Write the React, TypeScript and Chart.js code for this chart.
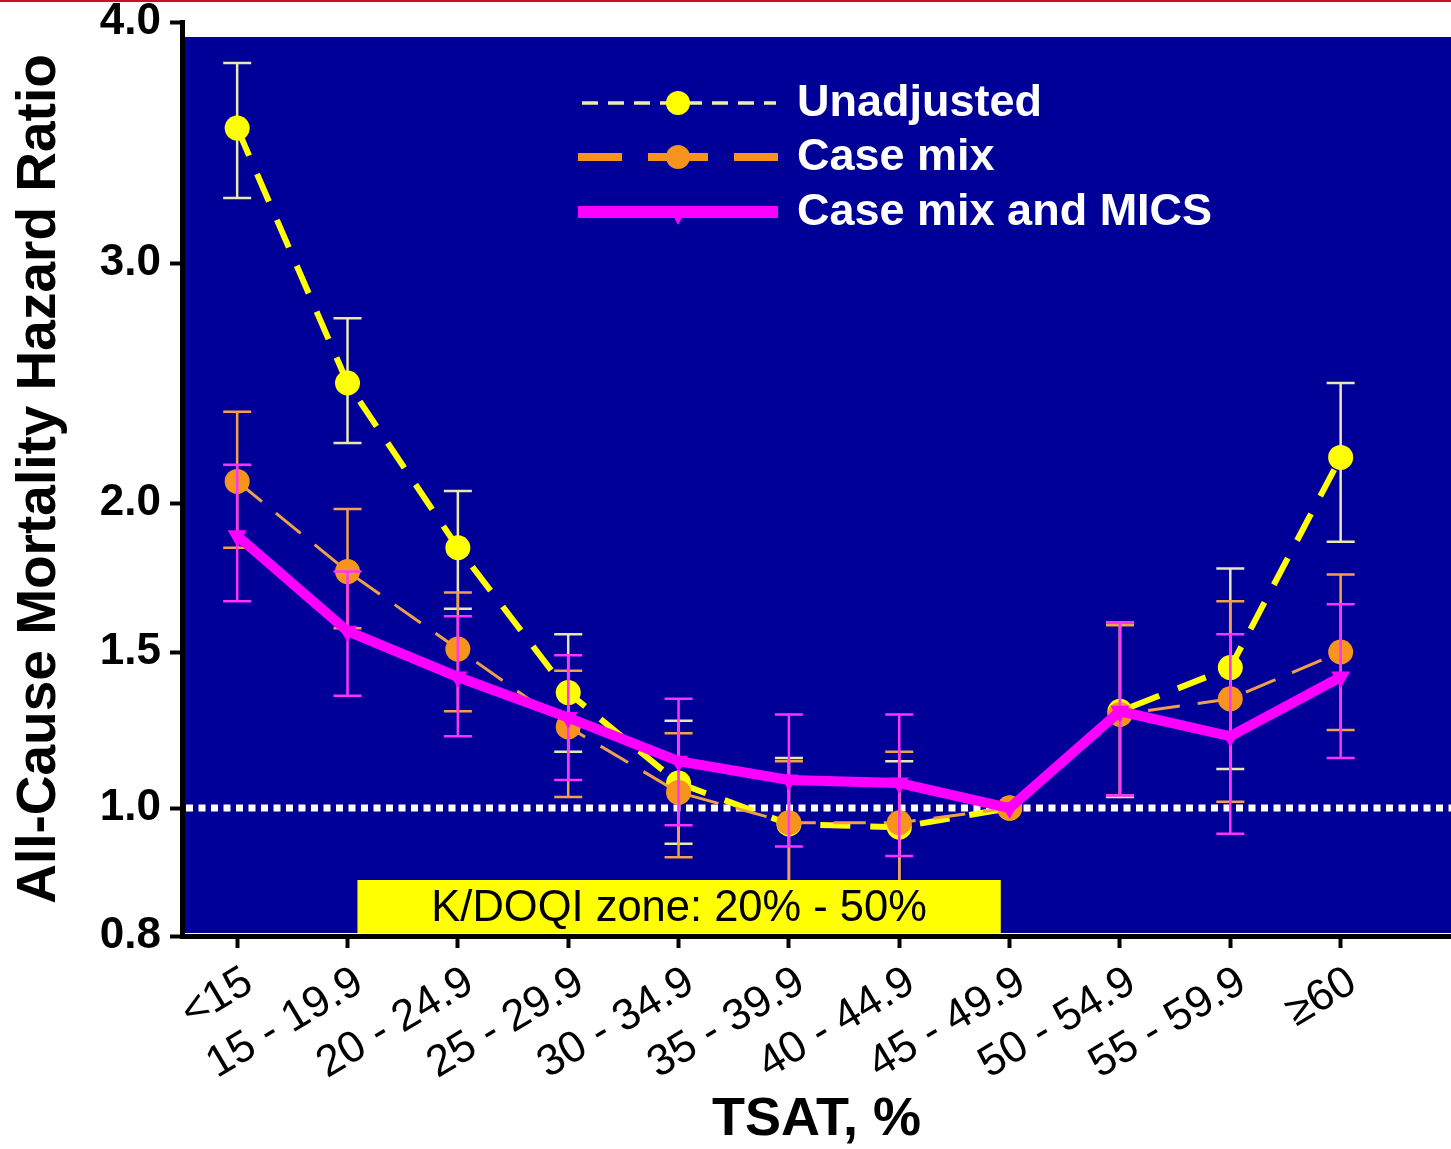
import React, { useEffect, useRef } from 'react';
import { Chart, registerables, LinearScale } from 'chart.js';

const FONT = '"Liberation Sans", Arial, Helvetica, sans-serif';

// ---------- data ----------
const CATEGORIES = ['<15', '15 - 19.9', '20 - 24.9', '25 - 29.9', '30 - 34.9', '35 - 39.9', '40 - 44.9', '45 - 49.9', '50 - 54.9', '55 - 59.9', '\u226560'];

const UNADJ_HR = [3.56, 2.50, 1.85, 1.37, 1.08, 0.975, 0.97, 1.0, 1.31, 1.45, 2.19];
const UNADJ_LO = [3.27, 2.25, 1.645, 1.18, 0.944, 0.85, 0.85, null, 1.035, 1.125, 1.87];
const UNADJ_HI = [3.83, 2.77, 2.05, 1.56, 1.28, 1.16, 1.15, null, 1.60, 1.78, 2.50];

const CASEMIX_HR = [2.09, 1.77, 1.51, 1.26, 1.05, 0.977, 0.977, 1.0, 1.30, 1.35, 1.50];
const CASEMIX_LO = [1.85, 1.58, 1.31, 1.035, 0.923, 0.86, 0.86, null, 1.04, 1.02, 1.25];
const CASEMIX_HI = [2.38, 1.98, 1.70, 1.44, 1.24, 1.15, 1.18, null, 1.59, 1.67, 1.76];

const MICS_HR = [1.89, 1.57, 1.42, 1.29, 1.15, 1.09, 1.08, 1.0, 1.31, 1.23, 1.42];
const MICS_LO = [1.67, 1.36, 1.23, 1.09, 0.973, 0.94, 0.925, null, 1.04, 0.96, 1.16];
const MICS_HI = [2.16, 1.77, 1.62, 1.49, 1.35, 1.30, 1.30, null, 1.60, 1.56, 1.66];

const SERIES_LABELS = ['Unadjusted', 'Case mix', 'Case mix and MICS'];

// y axis ticks (segmented axis, as in the original figure)
const Y_TICKS = [0.8, 1.0, 1.5, 2.0, 3.0, 4.0];
const Y_TICK_FRACTIONS = [0, 0.14, 0.3107, 0.4737, 0.7363, 1];

const REFERENCE_HR = 1.0;
const KDOQI_LABEL = 'K/DOQI zone: 20% - 50%';
const KDOQI_X = [1.09, 6.92];
const KDOQI_TOP = 0.8875;

// ---------- segmented scale ----------
function valueToFraction(v: number): number {
  const n = Y_TICKS.length;
  let i = 0;
  if (v <= Y_TICKS[0]) i = 0;
  else if (v >= Y_TICKS[n - 1]) i = n - 2;
  else { while (v > Y_TICKS[i + 1]) i++; }
  const t = (v - Y_TICKS[i]) / (Y_TICKS[i + 1] - Y_TICKS[i]);
  return Y_TICK_FRACTIONS[i] + t * (Y_TICK_FRACTIONS[i + 1] - Y_TICK_FRACTIONS[i]);
}
function fractionToValue(f: number): number {
  const n = Y_TICK_FRACTIONS.length;
  let i = 0;
  if (f <= Y_TICK_FRACTIONS[0]) i = 0;
  else if (f >= Y_TICK_FRACTIONS[n - 1]) i = n - 2;
  else { while (f > Y_TICK_FRACTIONS[i + 1]) i++; }
  const t = (f - Y_TICK_FRACTIONS[i]) / (Y_TICK_FRACTIONS[i + 1] - Y_TICK_FRACTIONS[i]);
  return Y_TICKS[i] + t * (Y_TICKS[i + 1] - Y_TICKS[i]);
}

class SegmentedScale extends LinearScale {
  static id = 'segmented';
  static defaults = {};
  buildTicks() {
    return Y_TICKS.map((value) => ({ value }));
  }
  getPixelForValue(value: number) {
    return this.getPixelForDecimal(valueToFraction(value));
  }
  getValueForPixel(pixel: number) {
    return fractionToValue(this.getDecimalForPixel(pixel));
  }
}

Chart.register(...registerables, SegmentedScale as any);

// ---------- plugin: background, reference line, error bars, zone box, legend ----------
const decorPlugin = {
  id: 'decor',
  beforeDraw(chart: any) {
    const { ctx, chartArea: a } = chart;
    ctx.save();
    ctx.fillStyle = '#000099';
    ctx.fillRect(a.left + 3, a.top + 15, a.right - a.left - 3, a.bottom - 3 - (a.top + 15));
    ctx.restore();
  },
  beforeDatasetsDraw(chart: any) {
    const { ctx, chartArea: a } = chart;
    const y = chart.scales.y.getPixelForValue(REFERENCE_HR);
    ctx.save();
    ctx.strokeStyle = '#ffffff';
    ctx.lineWidth = 7;
    ctx.setLineDash([7, 5.5]);
    ctx.beginPath();
    ctx.moveTo(a.left + 4, y);
    ctx.lineTo(a.right, y);
    ctx.stroke();
    ctx.restore();
  },
  beforeDatasetDraw(chart: any, args: any) {
    const ds = chart.data.datasets[args.index];
    const eb = ds.errorBars;
    if (!eb) return;
    const { ctx } = chart;
    const xs = chart.scales.x;
    const ys = chart.scales.y;
    ctx.save();
    ctx.strokeStyle = eb.color;
    ctx.lineWidth = 2.5;
    ctx.setLineDash([]);
    for (let i = 0; i < eb.lo.length; i++) {
      const lo = eb.lo[i];
      const hi = eb.hi[i];
      if (lo == null || hi == null) continue;
      const x = xs.getPixelForValue(i);
      const yl = ys.getPixelForValue(lo);
      const yh = ys.getPixelForValue(hi);
      ctx.beginPath();
      ctx.moveTo(x, yl);
      ctx.lineTo(x, yh);
      ctx.moveTo(x - 14, yl);
      ctx.lineTo(x + 14, yl);
      ctx.moveTo(x - 14, yh);
      ctx.lineTo(x + 14, yh);
      ctx.stroke();
    }
    ctx.restore();
  },
  afterDatasetsDraw(chart: any) {
    const { ctx, chartArea: a } = chart;
    const xs = chart.scales.x;
    const ys = chart.scales.y;
    const x0 = xs.getPixelForValue(KDOQI_X[0]);
    const x1 = xs.getPixelForValue(KDOQI_X[1]);
    const yTop = ys.getPixelForValue(KDOQI_TOP);
    const yBot = a.bottom - 3;
    ctx.save();
    ctx.fillStyle = '#ffff00';
    ctx.fillRect(x0, yTop, x1 - x0, yBot - yTop);
    ctx.fillStyle = '#000000';
    ctx.font = `43.5px ${FONT}`;
    ctx.textAlign = 'center';
    ctx.textBaseline = 'middle';
    ctx.fillText(KDOQI_LABEL, (x0 + x1) / 2, (yTop + yBot) / 2 + 2);
    ctx.restore();
  },
  afterDraw(chart: any) {
    const { ctx } = chart;
    const x0 = 578, x1 = 778, xm = 678, tx = 797;
    const rows = [103, 157, 212];
    ctx.save();
    // Unadjusted
    let y = rows[0];
    ctx.strokeStyle = '#eeeeaa';
    ctx.lineWidth = 3.5;
    ctx.setLineDash([16, 10]);
    ctx.beginPath();
    ctx.moveTo(x0 + 4, y);
    ctx.lineTo(x1 - 2, y);
    ctx.stroke();
    ctx.setLineDash([]);
    ctx.fillStyle = '#ffff00';
    ctx.beginPath();
    ctx.arc(xm, y, 12, 0, Math.PI * 2);
    ctx.fill();
    // Case mix
    y = rows[1];
    ctx.strokeStyle = '#f7941d';
    ctx.lineWidth = 8;
    ctx.beginPath();
    ctx.moveTo(578, y); ctx.lineTo(622, y);
    ctx.moveTo(648, y); ctx.lineTo(708, y);
    ctx.moveTo(734, y); ctx.lineTo(778, y);
    ctx.stroke();
    ctx.fillStyle = '#f7941d';
    ctx.beginPath();
    ctx.arc(xm, y, 12, 0, Math.PI * 2);
    ctx.fill();
    // MICS
    y = rows[2];
    ctx.strokeStyle = '#ff00ff';
    ctx.lineWidth = 12;
    ctx.beginPath();
    ctx.moveTo(x0, y);
    ctx.lineTo(x1, y);
    ctx.stroke();
    ctx.fillStyle = '#ff00ff';
    ctx.beginPath();
    ctx.moveTo(xm - 9, y - 4);
    ctx.lineTo(xm + 9, y - 4);
    ctx.lineTo(xm, y + 13);
    ctx.closePath();
    ctx.fill();
    // texts
    ctx.fillStyle = '#ffffff';
    ctx.font = `bold 45px ${FONT}`;
    ctx.textAlign = 'left';
    ctx.textBaseline = 'middle';
    SERIES_LABELS.forEach((t, i) => ctx.fillText(t, tx, rows[i] + 1));
    ctx.restore();
  },
};

function pts(arr: number[]) {
  return arr.map((v, i) => ({ x: i, y: v }));
}

export default function App() {
  const ref = useRef<HTMLCanvasElement>(null);
  useEffect(() => {
    if (!ref.current) return;
    const chart = new Chart(ref.current, {
      type: 'line',
      data: {
        datasets: [
          {
            label: SERIES_LABELS[0],
            data: pts(UNADJ_HR),
            borderColor: '#ffff00',
            borderWidth: 6,
            borderDash: [30, 20],
            pointStyle: 'circle',
            pointRadius: 12.5,
            pointBackgroundColor: '#ffff00',
            pointBorderWidth: 0,
            tension: 0,
            order: 3,
            errorBars: { lo: UNADJ_LO, hi: UNADJ_HI, color: '#e8e8b0' },
          } as any,
          {
            label: SERIES_LABELS[1],
            data: pts(CASEMIX_HR),
            borderColor: '#f0a048',
            borderWidth: 3,
            borderDash: [32, 18],
            pointStyle: 'circle',
            pointRadius: 12.5,
            pointBackgroundColor: '#f7941d',
            pointBorderWidth: 0,
            tension: 0,
            order: 2,
            errorBars: { lo: CASEMIX_LO, hi: CASEMIX_HI, color: '#f4a04a' },
          } as any,
          {
            label: SERIES_LABELS[2],
            data: pts(MICS_HR),
            borderColor: '#ff00ff',
            borderWidth: 10,
            pointStyle: 'triangle',
            pointRotation: 180,
            pointRadius: 11,
            pointBackgroundColor: '#ff00ff',
            pointBorderWidth: 0,
            tension: 0,
            order: 1,
            errorBars: { lo: MICS_LO, hi: MICS_HI, color: '#ff33ff' },
          } as any,
        ],
      },
      options: {
        responsive: false,
        animation: false,
        devicePixelRatio: 1,
        events: [],
        layout: { autoPadding: false, padding: { top: 22, left: 0, right: 0, bottom: 0 } },
        plugins: { legend: { display: false }, tooltip: { enabled: false } },
        scales: {
          x: {
            type: 'linear',
            min: -0.5,
            max: 11,
            afterBuildTicks: (s: any) => {
              s.ticks = CATEGORIES.map((_, i) => ({ value: i }));
            },
            afterFit: (s: any) => {
              s.height = 213;
              s.paddingLeft = 0;
              s.paddingRight = 0;
            },
            grid: { display: true, drawOnChartArea: false, drawTicks: true, tickLength: 12, tickWidth: 4, tickColor: '#000000' },
            border: { display: true, color: '#000000', width: 5 },
            ticks: {
              autoSkip: false,
              minRotation: 31,
              maxRotation: 31,
              padding: 8,
              labelOffset: 12,
              color: '#000000',
              font: { family: FONT, size: 44 },
              callback: (v: any) => CATEGORIES[v] ?? '',
            },
            title: {
              display: true,
              text: 'TSAT, %',
              color: '#000000',
              font: { family: FONT, size: 54, weight: 'bold', lineHeight: 1 },
              padding: { top: 0, bottom: 2 },
            },
          },
          y: {
            type: 'segmented' as any,
            min: 0.8,
            max: 4.0,
            afterFit: (s: any) => {
              s.width = 182;
              s.paddingTop = 0;
              s.paddingBottom = 0;
            },
            grid: { display: true, drawOnChartArea: false, drawTicks: true, tickLength: 12, tickWidth: 4, tickColor: '#000000' },
            border: { display: true, color: '#000000', width: 5 },
            ticks: {
              color: '#000000',
              padding: 9,
              font: { family: FONT, size: 44, weight: 'bold', lineHeight: 1 },
              callback: (v: any) => Number(v).toFixed(1),
            },
            title: {
              display: true,
              text: 'All-Cause Mortality Hazard Ratio',
              color: '#000000',
              font: { family: FONT, size: 55, weight: 'bold', lineHeight: 1.2 },
              padding: { top: 7, bottom: 0 },
            },
          } as any,
        },
      } as any,
      plugins: [decorPlugin],
    });
    return () => chart.destroy();
  }, []);

  return (
    <div style={{ position: 'absolute', left: 0, top: 0, width: 1451, height: 1149, background: '#ffffff', overflow: 'hidden' }}>
      <canvas ref={ref} width={1451} height={1149} style={{ display: 'block', width: 1451, height: 1149 }} />
      <div style={{ position: 'absolute', left: 0, top: 0, width: 1451, height: 2, background: '#c8102e' }} />
    </div>
  );
}
